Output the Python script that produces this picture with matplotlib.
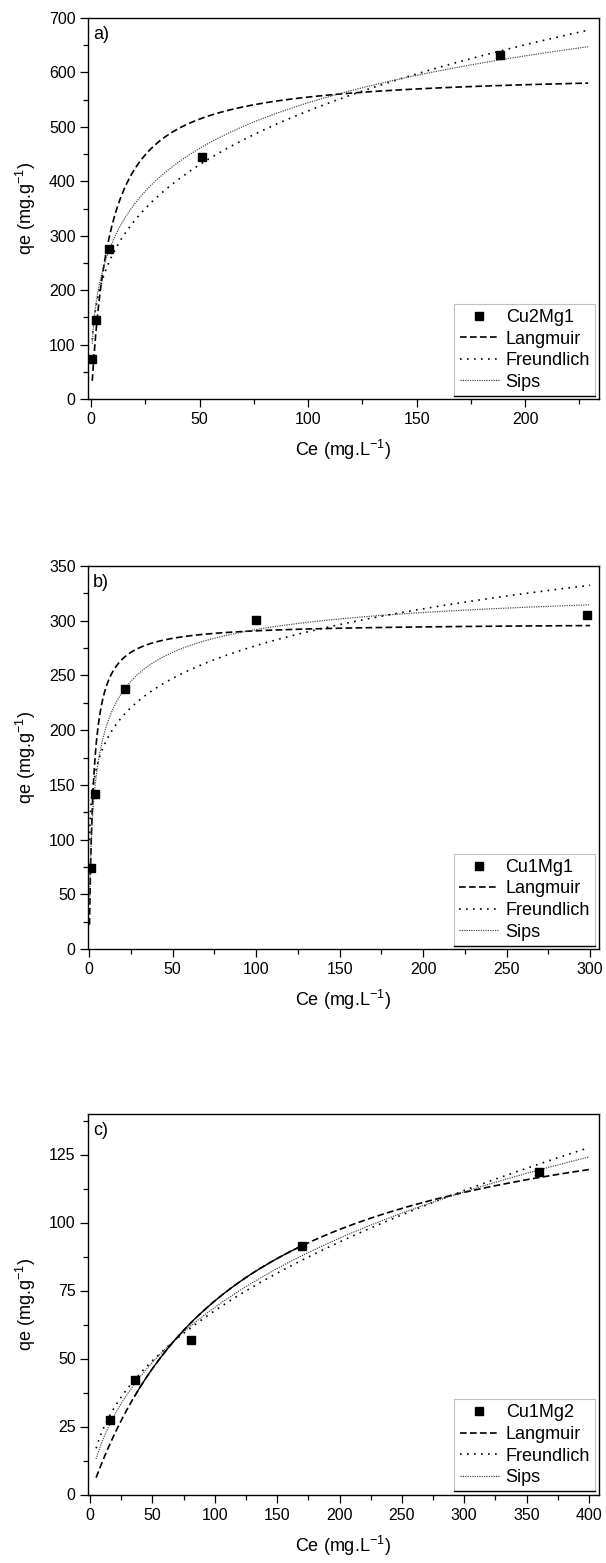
import numpy as np
import matplotlib
matplotlib.use("Agg")
import matplotlib.pyplot as plt
from matplotlib.lines import Line2D

plt.rcParams['font.family'] = ['Liberation Sans', 'DejaVu Sans']
plt.rcParams['mathtext.default'] = 'regular'

# ---- experimental equilibrium data (Ce in mg/L, qe in mg/g) ----
ce_cu2mg1 = [0.6, 2.0, 8.3, 51.2, 188.5]
qe_cu2mg1 = [74, 145, 275, 445, 632]

ce_cu1mg1 = [0.8, 3.6, 21.4, 99.8, 298.0]
qe_cu1mg1 = [74, 142, 238, 301, 305]

ce_cu1mg2 = [15.8, 35.8, 80.8, 170.0, 360.0]
qe_cu1mg2 = [27.3, 42.0, 56.8, 91.5, 118.7]

# ---- fitted isotherm parameters ----
# Langmuir: q = qm*K*C/(1+K*C)
langmuir_qm = [602.0, 298.0, 154.4]
langmuir_k = [0.1174, 0.403, 0.00855]
# Freundlich: q = Kf*C**(1/n)
freundlich_kf = [134.2, 129.7, 8.2]
freundlich_inv_n = [0.298, 0.165, 0.458]
# Sips: q = qm*Ks*C**n/(1+Ks*C**n)
sips_qm = [1200.0, 343.0, 300.0]
sips_ks = [0.1228, 0.3607, 0.01688]
sips_n = [0.415, 0.60, 0.623]

# fit curve ranges (Ce)
curve_start = [0.5, 0.2, 4.9]
curve_end = [229.0, 300.0, 400.0]

sample_names = ["Cu2Mg1", "Cu1Mg1", "Cu1Mg2"]
panel_tags = ["a)", "b)", "c)"]

# axis settings
xlims = [(-1.7, 234), (-1.0, 305), (-2.0, 408)]
ylims = [(0, 700), (0, 350), (0, 140)]
xmajor = [np.arange(0, 201, 50), np.arange(0, 301, 50), np.arange(0, 401, 50)]
xminor = [np.arange(25, 234, 50), np.arange(25, 305, 50), np.arange(25, 408, 50)]
ymajor = [np.arange(0, 701, 100), np.arange(0, 351, 50), np.arange(0, 126, 25)]
yminor = [np.arange(50, 700, 100), np.arange(25, 350, 50), np.arange(12.5, 140, 25)]


def langmuir(c, qm, k):
    return qm * k * c / (1 + k * c)


def freundlich(c, kf, inv_n):
    return kf * c ** inv_n


def sips(c, qm, ks, n):
    return qm * ks * c ** n / (1 + ks * c ** n)


W, H = 606, 1563
fig = plt.figure(figsize=(W / 100, H / 100), dpi=100)
fig.patch.set_facecolor('white')

# axes boxes in pixels: left, right, top, bottom
boxes = [(87.5, 599.0, 18.0, 399.0),
         (87.5, 598.5, 566.0, 949.0),
         (87.5, 599.0, 1113.7, 1494.5)]

datasets = [(ce_cu2mg1, qe_cu2mg1), (ce_cu1mg1, qe_cu1mg1), (ce_cu1mg2, qe_cu1mg2)]

legends = []
for i, (l, r, t, b) in enumerate(boxes):
    ax = fig.add_axes([l / W, 1 - b / H, (r - l) / W, (b - t) / H])
    ce, qe = datasets[i]

    c = np.linspace(curve_start[i], curve_end[i], 600)
    ql = langmuir(c, langmuir_qm[i], langmuir_k[i])
    qf = freundlich(c, freundlich_kf[i], freundlich_inv_n[i])
    qs = sips(c, sips_qm[i], sips_ks[i], sips_n[i])

    pts, = ax.plot(ce, qe, ls='none', marker='s', ms=5.2, color='black',
                   mec='black', label=sample_names[i], zorder=5)
    ll, = ax.plot(c, ql, color='black', lw=1.2, dashes=(4, 2), label='Langmuir')
    lf, = ax.plot(c, qf, color='black', lw=1.2, dashes=(1.0, 3.2), label='Freundlich')
    ls_, = ax.plot(c, qs, color='0.25', lw=0.85, dashes=(1, 1), label='Sips')

    if i == 2:
        # solid trace along the Langmuir curve between the middle points
        cs = np.linspace(ce[1], ce[3], 200)
        ax.plot(cs, langmuir(cs, langmuir_qm[i], langmuir_k[i]),
                color='black', lw=1.0, zorder=4)

    ax.set_xlim(*xlims[i])
    ax.set_ylim(*ylims[i])
    ax.set_xticks(xmajor[i])
    ax.set_xticks(xminor[i], minor=True)
    ax.set_yticks(ymajor[i])
    ax.set_yticks(yminor[i], minor=True)
    ax.tick_params(which='major', direction='out', length=5.5, width=0.9,
                   labelsize=11.5, top=False, right=False)
    ax.tick_params(which='minor', direction='out', length=3.5, width=0.9,
                   top=False, right=False)
    ax.tick_params(axis='x', pad=4)
    ax.tick_params(axis='y', pad=3)
    for sp in ax.spines.values():
        sp.set_linewidth(1.0)
        sp.set_color('black')

    ax.set_xlabel('Ce (mg.L$^{-1}$)', fontsize=13, labelpad=8)
    ax.set_ylabel('qe (mg.g$^{-1}$)', fontsize=13, labelpad=8)
    ax.text(0.011, 0.978, panel_tags[i], transform=ax.transAxes,
            fontsize=13, ha='left', va='top')

    leg = ax.legend(handles=[pts, ll, lf, ls_], loc='lower right',
                    bbox_to_anchor=(0.993, 0.008), fontsize=13,
                    frameon=True, fancybox=False, framealpha=1,
                    edgecolor='0.75', handlelength=2.2, handletextpad=0.35,
                    labelspacing=0.25, borderpad=0.3, borderaxespad=0.0,
                    markerscale=1.0)
    leg.get_frame().set_linewidth(0.8)
    legends.append(leg)

fig.canvas.draw()
# dark bottom edge on each legend box
for leg in legends:
    bb = leg.get_frame().get_window_extent()
    inv = fig.transFigure.inverted()
    (x0, y0), (x1, _) = inv.transform([(bb.x0, bb.y0), (bb.x1, bb.y0)])
    fig.add_artist(Line2D([x0, x1], [y0, y0], color='black', lw=1.0,
                          transform=fig.transFigure))

fig.savefig('out.png', dpi=100, facecolor='white')
